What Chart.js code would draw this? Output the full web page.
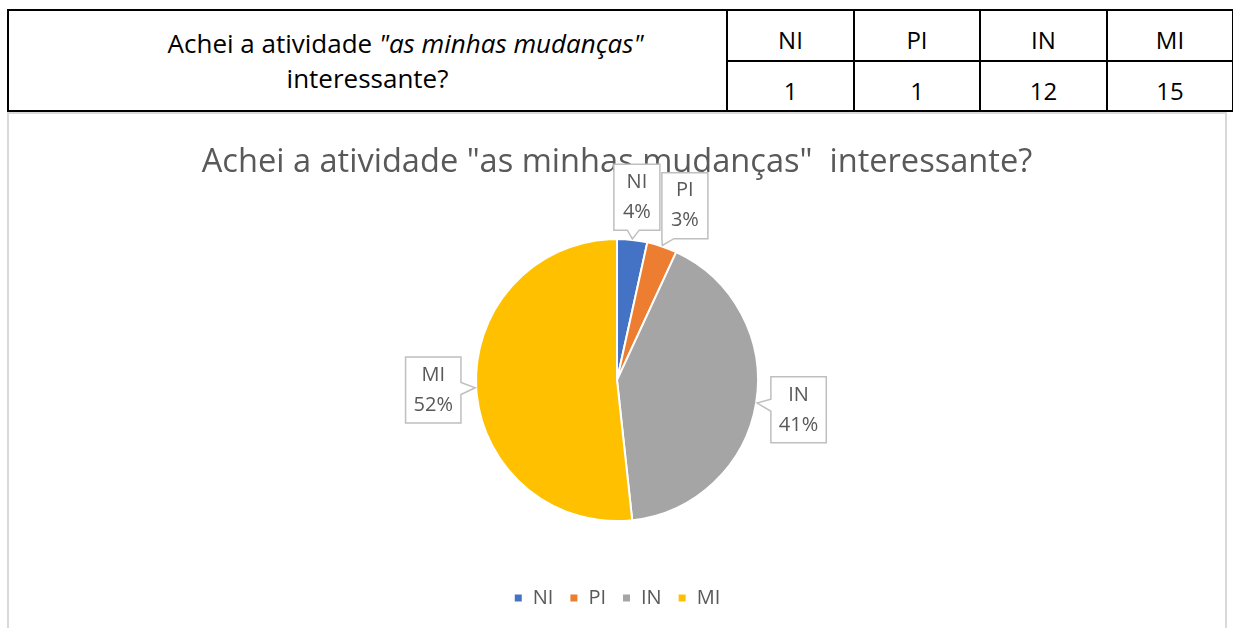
<!DOCTYPE html>
<html lang="pt">
<head>
    <meta charset="UTF-8">
    <title>Achei a atividade interessante?</title>
    <script src="https://cdn.jsdelivr.net/npm/chart.js"></script>
    <style>
        body {
            margin: 0;
            background: #ffffff;
            font-family: "Open Sans", sans-serif;
            width: 1233px;
            height: 628px;
            overflow: hidden;
            position: relative;
        }

        .answers {
            position: absolute;
            left: 7px;
            top: 9px;
            width: 1225px;
            height: 103px;
            border-collapse: collapse;
            table-layout: fixed;
        }

        .answers td {
            border: 2px solid #000;
            text-align: center;
            font-size: 24px;
            color: #000;
            padding: 10px 0 0 0;
            line-height: 30px;
        }

        .answers td.question {
            padding: 0;
            line-height: 35px;
            font-size: 26px;
            text-indent: 76px;
        }

        .chart-box {
            position: absolute;
            left: 7px;
            top: 112px;
            width: 1216px;
            height: 530px;
            border: 2px solid #d9d9d9;
            border-bottom: none;
        }
    </style>
</head>
<body>
    <table class="answers">
        <colgroup>
            <col style="width:719px">
            <col style="width:127px">
            <col style="width:126px">
            <col style="width:127px">
            <col style="width:126px">
        </colgroup>
        <tr>
            <td class="question" rowspan="2">Achei a atividade <i>"as minhas mudanças"</i><br>interessante?</td>
            <td id="h0"></td><td id="h1"></td><td id="h2"></td><td id="h3"></td>
        </tr>
        <tr>
            <td id="v0"></td><td id="v1"></td><td id="v2"></td><td id="v3"></td>
        </tr>
    </table>

    <div class="chart-box">
        <canvas id="pieChart" width="1216" height="516"></canvas>
    </div>

    <script>
        // answer categories and counts (29 students)
        const categories = ['NI', 'PI', 'IN', 'MI'];
        const counts = [1, 1, 12, 15];
        // percentages as printed on the callouts
        const percentLabels = ['4%', '3%', '41%', '52%'];
        const sliceColors = ['#4472C4', '#ED7D31', '#A5A5A5', '#FFC000'];

        // fill the table from the same arrays
        categories.forEach((c, i) => {
            document.getElementById('h' + i).textContent = c;
            document.getElementById('v' + i).textContent = counts[i];
        });

        const labelFont = '20px "Open Sans", sans-serif';

        // draws the Excel-like callout boxes with a small pointer
        const calloutPlugin = {
            id: 'callouts',
            afterDatasetsDraw(chart) {
                const ctx = chart.ctx;
                const meta = chart.getDatasetMeta(0);
                ctx.save();
                ctx.font = labelFont;
                let prevRight = -Infinity;
                meta.data.forEach((arc, i) => {
                    const mid = (arc.startAngle + arc.endAngle) / 2;
                    const r = arc.outerRadius;
                    const gap = 43;
                    let cx = arc.x + Math.cos(mid) * (r + gap);
                    const cy = arc.y + Math.sin(mid) * (r + gap);
                    const tx = arc.x + Math.cos(mid) * (r + 1);
                    const ty = arc.y + Math.sin(mid) * (r + 1);

                    const lines = [categories[i], percentLabels[i]];
                    const tw = Math.max(...lines.map(t => ctx.measureText(t).width));
                    const w = Math.max(tw + 16, 46);
                    const h = 66;
                    // push small neighbouring boxes apart, as Excel does
                    if (cy < arc.y && cx - w / 2 < prevRight + 2) cx = prevRight + 2 + w / 2;
                    if (cy < arc.y) prevRight = cx + w / 2;
                    const x0 = cx - w / 2, x1 = cx + w / 2;
                    const y0 = cy - h / 2, y1 = cy + h / 2;

                    // which edge faces the slice
                    const dx = tx - cx, dy = ty - cy;
                    const n = 6;
                    const pts = [];
                    const clampX = v => Math.min(Math.max(v, x0 + n), x1 - n);
                    const clampY = v => Math.min(Math.max(v, y0 + n), y1 - n);
                    let edge;
                    if (Math.abs(dx) / (w / 2) > Math.abs(dy) / (h / 2)) {
                        edge = dx > 0 ? 'right' : 'left';
                    } else {
                        edge = dy > 0 ? 'bottom' : 'top';
                    }
                    const ex = clampX(cx + dx * (h / 2) / Math.abs(dy || 1));
                    const ey = clampY(cy + dy * (w / 2) / Math.abs(dx || 1));

                    pts.push([x0, y0]);
                    if (edge === 'top') pts.push([ex - n, y0], [tx, ty], [ex + n, y0]);
                    pts.push([x1, y0]);
                    if (edge === 'right') pts.push([x1, ey - n], [tx, ty], [x1, ey + n]);
                    pts.push([x1, y1]);
                    if (edge === 'bottom') pts.push([ex + n, y1], [tx, ty], [ex - n, y1]);
                    pts.push([x0, y1]);
                    if (edge === 'left') pts.push([x0, ey + n], [tx, ty], [x0, ey - n]);

                    ctx.beginPath();
                    pts.forEach((p, k) => k ? ctx.lineTo(p[0], p[1]) : ctx.moveTo(p[0], p[1]));
                    ctx.closePath();
                    ctx.fillStyle = '#ffffff';
                    ctx.fill();
                    ctx.lineWidth = 1.5;
                    ctx.strokeStyle = '#bfbfbf';
                    ctx.stroke();

                    ctx.fillStyle = '#595959';
                    ctx.textAlign = 'center';
                    ctx.textBaseline = 'middle';
                    ctx.fillText(lines[0], cx, cy - 15);
                    ctx.fillText(lines[1], cx, cy + 15);
                });
                ctx.restore();
            }
        };

        const pieCtx = document.getElementById('pieChart').getContext('2d');

        const pieChart = new Chart(pieCtx, {
            type: 'pie',
            data: {
                labels: categories,
                datasets: [{
                    data: counts,
                    backgroundColor: sliceColors,
                    borderColor: '#ffffff',
                    borderWidth: 2,
                    radius: 141
                }]
            },
            options: {
                responsive: false,
                animation: false,
                devicePixelRatio: 1,
                layout: {
                    padding: { top: 0, bottom: 12, left: 0, right: 0 }
                },
                plugins: {
                    title: {
                        display: true,
                        text: 'Achei a atividade "as minhas mudanças"  interessante?',
                        color: '#595959',
                        font: { family: '"Open Sans", sans-serif', size: 32.6, weight: 'normal' },
                        padding: { top: 29, bottom: 6 }
                    },
                    legend: {
                        position: 'bottom',
                        labels: {
                            color: '#595959',
                            boxWidth: 9,
                            boxHeight: 9,
                            padding: 16,
                            font: { family: '"Open Sans", sans-serif', size: 20 }
                        }
                    },
                    tooltip: { enabled: false }
                }
            },
            plugins: [calloutPlugin]
        });
    </script>
</body>
</html>
